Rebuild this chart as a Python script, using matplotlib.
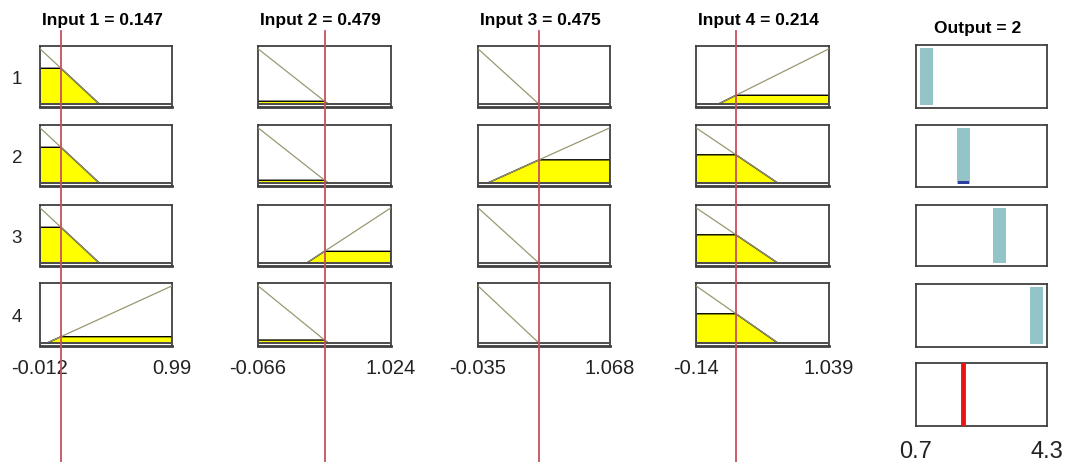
import numpy as np
import matplotlib
matplotlib.use("Agg")
import matplotlib.pyplot as plt
from matplotlib.lines import Line2D
from matplotlib.transforms import blended_transform_factory

# ---------------- data ----------------
input_names = ["Input 1", "Input 2", "Input 3", "Input 4"]
input_values = [0.147, 0.479, 0.475, 0.214]
range_lo = [-0.012, -0.066, -0.035, -0.14]
range_hi = [0.99, 1.024, 1.068, 1.039]
range_labels_lo = ["-0.012", "-0.066", "-0.035", "-0.14"]
range_labels_hi = ["0.99", "1.024", "1.068", "1.039"]
# "low" MF: 1 at range_lo -> 0 at low_zero ; "high" MF: 0 at high_start -> 1 at range_hi
low_zero = [0.44, 0.51, 0.475, 0.587]
high_start = [0.04, 0.33, 0.042, 0.055]
rule_labels = ["1", "2", "3", "4"]
rule_terms = [
    ["low", "low", "low", "high"],
    ["low", "low", "high", "low"],
    ["low", "high", "low", "low"],
    ["high", "low", "low", "low"],
]
output_consts = [1, 2, 3, 4]
output_lo, output_hi = 0.7, 4.3
output_value = 2
output_labels = ["0.7", "4.3"]

# ---------------- layout ----------------
W, H = 1068, 462
fig = plt.figure(figsize=(W / 100, H / 100), dpi=100)
fig.patch.set_facecolor("white")

col_x = [(40, 172), (258, 391), (478, 610), (696, 829)]
out_x = (916, 1047)
row_y = [(46, 107), (125, 186), (205, 266), (283, 346)]
out_row_y = [(45, 108), (125, 187), (205, 266), (284, 347), (363, 426)]

FONT = "Liberation Sans"
SPINE = "#404040"
MFCOL = "#9a9870"
YELLOW = "#ffff00"
INRED = "#c8505c"
TEAL = "#93c5c8"


def rect(x0, x1, y0, y1):
    return [x0 / W, 1 - y1 / H, (x1 - x0) / W, (y1 - y0) / H]


def style(ax):
    ax.set_xticks([])
    ax.set_yticks([])
    for s in ax.spines.values():
        s.set_color(SPINE)
        s.set_linewidth(1.3)
    ax.spines["bottom"].set_linewidth(2.0)
    ax.set_ylim(-0.05, 1.05)


def mf(term, j, x):
    lo, hi = range_lo[j], range_hi[j]
    if term == "low":
        return np.clip((low_zero[j] - x) / (low_zero[j] - lo), 0, 1)
    return np.clip((x - high_start[j]) / (hi - high_start[j]), 0, 1)


strengths = []
top_axes = []
for i, terms in enumerate(rule_terms):
    degs = []
    for j, term in enumerate(terms):
        x0, x1 = col_x[j]
        y0, y1 = row_y[i]
        ax = fig.add_axes(rect(x0, x1, y0, y1))
        style(ax)
        lo, hi = range_lo[j], range_hi[j]
        ax.set_xlim(lo, hi)
        xs = np.linspace(lo, hi, 600)
        ys = mf(term, j, xs)
        mu = float(mf(term, j, np.array([input_values[j]]))[0])
        degs.append(mu)
        clipped = np.minimum(ys, mu)
        if mu > 0:
            px = np.concatenate([[lo], xs, [hi]])
            py = np.concatenate([[0], clipped, [0]])
            ax.fill(px, py, facecolor=YELLOW, edgecolor="black", linewidth=1.0, zorder=2)
        ax.plot(xs, ys, color=MFCOL, linewidth=0.9, zorder=3)
        ax.axhline(0, color="#505050", linewidth=1.4, zorder=4)
        if i == 0:
            top_axes.append(ax)
            ax.text((lo + hi) / 2 - 0.03 * (hi - lo), 1 + 21 / 61 * 1.1 + 0.05,
                    f"{input_names[j]} = {input_values[j]:.3f}",
                    ha="center", va="baseline", fontsize=12.5, fontweight="bold",
                    family=FONT, transform=ax.transData)
        if i == len(rule_terms) - 1:
            ax.text(0.0, -0.35, range_labels_lo[j], transform=ax.transAxes,
                    ha="center", va="center", fontsize=14.5, family=FONT, color="#222222")
            ax.text(1.0, -0.35, range_labels_hi[j], transform=ax.transAxes,
                    ha="center", va="center", fontsize=14.5, family=FONT, color="#222222")
        if j == 0:
            ax.text(-23 / 132, 0.45, rule_labels[i], transform=ax.transAxes,
                    ha="center", va="center", fontsize=13.5, family=FONT, color="#222222")
    strengths.append(min(degs))

# input red lines spanning the whole column
for j, ax in enumerate(top_axes):
    tr = blended_transform_factory(ax.transData, fig.transFigure)
    fig.add_artist(Line2D([input_values[j], input_values[j]], [0, 1 - 31 / H],
                          transform=tr, color=INRED, linewidth=1.3, zorder=10))

# output column
bar_w = 0.36
for i in range(5):
    y0, y1 = out_row_y[i]
    ax = fig.add_axes(rect(out_x[0], out_x[1], y0, y1))
    style(ax)
    ax.spines["bottom"].set_linewidth(1.3)
    ax.set_xlim(output_lo, output_hi)
    if i < 4:
        ax.bar(output_consts[i], 1.0, width=bar_w, bottom=0, color=TEAL, zorder=2)
        if strengths[i] > 0:
            ax.bar(output_consts[i], max(strengths[i], 0.04), width=bar_w * 0.8, bottom=0,
                   color="#2b3f9e", zorder=3)
        if i == 0:
            ax.text((output_lo + output_hi) / 2 - 0.1, 1.05 + 12 / 63 * 1.1,
                    f"Output = {output_value}", ha="center", va="baseline",
                    fontsize=12.5, fontweight="bold", family=FONT)
    else:
        ax.axvline(output_value, color="#ee1111", linewidth=3.5, zorder=3)
        ax.text(0.0, -0.42, output_labels[0], transform=ax.transAxes,
                ha="center", va="center", fontsize=17, family=FONT, color="#222222")
        ax.text(1.0, -0.42, output_labels[1], transform=ax.transAxes,
                ha="center", va="center", fontsize=17, family=FONT, color="#222222")

fig.savefig("out.png", dpi=100, facecolor="white")
